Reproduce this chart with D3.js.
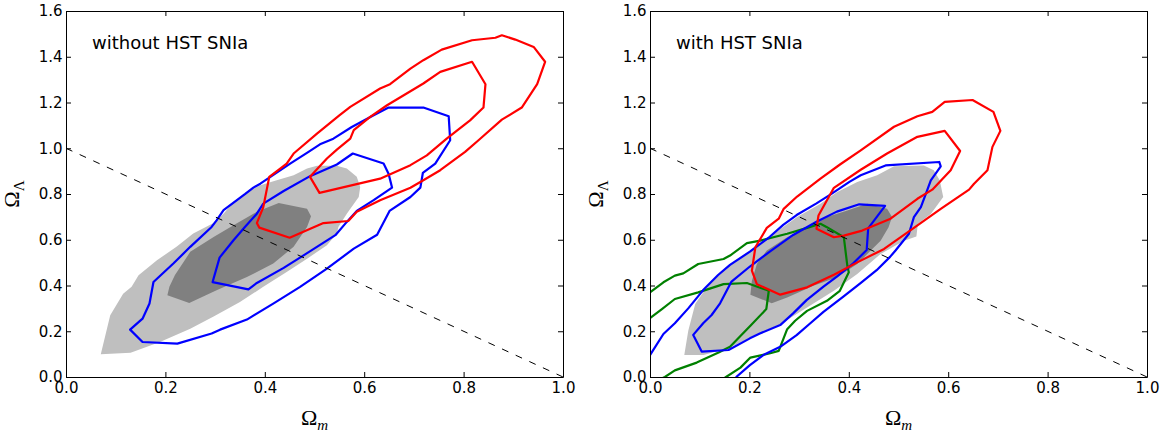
<!DOCTYPE html>
<html><head><meta charset="utf-8">
<script src="https://cdn.jsdelivr.net/npm/d3@7"></script>
<style>body{margin:0;background:#fff}svg{display:block}</style>
</head><body>
<svg id="chart" width="1167" height="437"></svg>
<script>
// ---------- data ----------
const xTicks = [0, 0.2, 0.4, 0.6, 0.8, 1.0];
const yTicks = [0, 0.2, 0.4, 0.6, 0.8, 1.0, 1.2, 1.4, 1.6];
const panelTitles = ["without HST SNIa", "with HST SNIa"];
const flatLine = [[0, 1], [1, 0]];

// Left panel (without HST SNIa)
const leftGrayOuter = [[0.070,0.099],[0.130,0.106],[0.189,0.153],[0.250,0.211],[0.297,0.265],[0.350,0.328],[0.397,0.394],[0.444,0.459],[0.485,0.517],[0.525,0.576],[0.545,0.627],[0.548,0.656],[0.565,0.714],[0.589,0.787],[0.592,0.831],[0.585,0.875],[0.565,0.911],[0.545,0.923],[0.505,0.923],[0.485,0.911],[0.458,0.882],[0.424,0.860],[0.391,0.838],[0.364,0.809],[0.337,0.765],[0.317,0.714],[0.297,0.673],[0.256,0.627],[0.223,0.571],[0.183,0.510],[0.146,0.445],[0.132,0.394],[0.115,0.364],[0.089,0.270]];
const leftGrayInner = [[0.204,0.357],[0.248,0.324],[0.303,0.379],[0.364,0.437],[0.417,0.496],[0.458,0.569],[0.485,0.656],[0.493,0.703],[0.485,0.736],[0.428,0.761],[0.384,0.722],[0.337,0.663],[0.297,0.612],[0.250,0.547],[0.219,0.445],[0.208,0.394]];
const leftBlueOuter = [[0.129,0.207],[0.154,0.153],[0.224,0.146],[0.293,0.190],[0.310,0.207],[0.364,0.251],[0.417,0.321],[0.471,0.394],[0.525,0.474],[0.579,0.561],[0.626,0.622],[0.651,0.726],[0.693,0.787],[0.713,0.828],[0.718,0.892],[0.743,0.933],[0.773,1.035],[0.770,1.140],[0.719,1.178],[0.649,1.178],[0.619,1.144],[0.575,1.093],[0.538,1.042],[0.511,1.017],[0.488,0.984],[0.451,0.933],[0.391,0.845],[0.377,0.828],[0.360,0.799],[0.317,0.729],[0.303,0.685],[0.293,0.656],[0.250,0.569],[0.216,0.496],[0.176,0.415],[0.168,0.321],[0.154,0.255]];
const leftBlueInner = [[0.295,0.415],[0.367,0.383],[0.384,0.411],[0.438,0.477],[0.478,0.532],[0.542,0.620],[0.565,0.678],[0.585,0.726],[0.619,0.773],[0.656,0.828],[0.649,0.889],[0.639,0.933],[0.577,0.977],[0.545,0.929],[0.491,0.878],[0.438,0.813],[0.397,0.758],[0.384,0.714],[0.360,0.656],[0.337,0.598],[0.309,0.522]];
const leftRedOuter = [[0.409,0.875],[0.397,0.743],[0.384,0.673],[0.389,0.653],[0.450,0.609],[0.518,0.673],[0.568,0.682],[0.585,0.722],[0.632,0.773],[0.693,0.827],[0.719,0.860],[0.753,0.904],[0.803,0.984],[0.830,1.035],[0.877,1.125],[0.917,1.178],[0.948,1.280],[0.964,1.378],[0.941,1.443],[0.904,1.475],[0.877,1.494],[0.864,1.483],[0.817,1.472],[0.756,1.431],[0.719,1.385],[0.693,1.348],[0.652,1.280],[0.632,1.261],[0.572,1.181],[0.550,1.144],[0.505,1.064],[0.458,0.977],[0.444,0.933],[0.431,0.911]];
const leftRedInner = [[0.510,0.805],[0.491,0.875],[0.525,0.955],[0.545,0.994],[0.572,1.042],[0.579,1.079],[0.612,1.137],[0.646,1.188],[0.719,1.283],[0.753,1.334],[0.817,1.378],[0.844,1.280],[0.840,1.178],[0.813,1.122],[0.766,1.042],[0.726,0.969],[0.693,0.926],[0.632,0.867]];

// Right panel (with HST SNIa)
const rightGrayOuter = [[0.069,0.096],[0.108,0.096],[0.161,0.129],[0.215,0.187],[0.262,0.231],[0.316,0.304],[0.370,0.377],[0.417,0.450],[0.464,0.538],[0.511,0.596],[0.536,0.614],[0.539,0.670],[0.565,0.713],[0.590,0.787],[0.583,0.860],[0.571,0.904],[0.551,0.925],[0.491,0.921],[0.457,0.882],[0.417,0.852],[0.376,0.808],[0.343,0.757],[0.296,0.699],[0.249,0.626],[0.202,0.553],[0.161,0.494],[0.121,0.414],[0.091,0.319],[0.077,0.202]];
const rightGrayInner = [[0.202,0.360],[0.245,0.322],[0.276,0.348],[0.329,0.399],[0.376,0.436],[0.417,0.494],[0.464,0.596],[0.480,0.655],[0.487,0.699],[0.477,0.735],[0.437,0.757],[0.397,0.728],[0.356,0.699],[0.316,0.655],[0.276,0.611],[0.235,0.553],[0.215,0.494],[0.205,0.421]];
const rightBlueOuter = [[0.000,0.096],[0.027,0.188],[0.050,0.235],[0.077,0.300],[0.107,0.380],[0.137,0.446],[0.161,0.490],[0.201,0.548],[0.241,0.613],[0.268,0.665],[0.295,0.708],[0.335,0.759],[0.362,0.796],[0.402,0.854],[0.424,0.882],[0.474,0.925],[0.582,0.940],[0.585,0.921],[0.565,0.860],[0.555,0.801],[0.545,0.743],[0.531,0.699],[0.521,0.626],[0.494,0.553],[0.483,0.525],[0.456,0.467],[0.423,0.409],[0.389,0.351],[0.349,0.285],[0.322,0.234],[0.295,0.183],[0.262,0.132],[0.228,0.096],[0.201,0.052],[0.174,0.001],[0.172,-0.01]];
const rightBlueInner = [[0.087,0.184],[0.104,0.111],[0.158,0.118],[0.201,0.169],[0.221,0.190],[0.262,0.227],[0.288,0.278],[0.315,0.336],[0.349,0.395],[0.376,0.439],[0.409,0.497],[0.436,0.555],[0.439,0.650],[0.473,0.748],[0.421,0.755],[0.376,0.723],[0.335,0.679],[0.288,0.621],[0.241,0.548],[0.201,0.483],[0.164,0.417],[0.141,0.322],[0.124,0.271],[0.107,0.235]];
const rightRedOuter = [[0.269,0.735],[0.259,0.692],[0.235,0.652],[0.212,0.567],[0.205,0.465],[0.215,0.406],[0.262,0.360],[0.316,0.392],[0.370,0.447],[0.417,0.501],[0.471,0.560],[0.531,0.652],[0.585,0.735],[0.642,0.819],[0.652,0.845],[0.679,0.904],[0.689,1.006],[0.705,1.076],[0.691,1.159],[0.649,1.211],[0.593,1.203],[0.568,1.159],[0.538,1.140],[0.491,1.094],[0.424,0.991],[0.383,0.930],[0.343,0.867],[0.296,0.789]];
const rightRedInner = [[0.390,0.618],[0.370,0.611],[0.335,0.648],[0.339,0.706],[0.370,0.827],[0.424,0.906],[0.477,0.977],[0.538,1.050],[0.593,1.076],[0.624,0.988],[0.605,0.904],[0.568,0.819],[0.538,0.779],[0.484,0.692],[0.427,0.640]];
const rightGreenOuter = [[-0.01,0.362],[0.000,0.370],[0.027,0.414],[0.050,0.443],[0.067,0.453],[0.097,0.494],[0.148,0.516],[0.161,0.531],[0.195,0.585],[0.222,0.596],[0.276,0.626],[0.316,0.652],[0.343,0.670],[0.356,0.655],[0.390,0.611],[0.397,0.487],[0.400,0.458],[0.382,0.377],[0.356,0.333],[0.316,0.289],[0.292,0.246],[0.276,0.209],[0.259,0.114],[0.242,0.104],[0.202,0.085],[0.182,0.041],[0.153,0.000],[0.146,-0.01]];
const rightGreenInner = [[-0.01,0.25],[0.000,0.257],[0.024,0.297],[0.050,0.341],[0.097,0.370],[0.148,0.406],[0.195,0.411],[0.239,0.377],[0.234,0.297],[0.202,0.224],[0.161,0.132],[0.138,0.107],[0.094,0.063],[0.050,0.029],[0.030,0.000],[0.020,-0.01]];

// ---------- drawing ----------
const svg = d3.select("#chart");
const plotTop = 11, plotBottom = 377;
const panels = [
  {left: 66, right: 563, title: panelTitles[0],
   fills: [[leftGrayOuter, "#bfbfbf"], [leftGrayInner, "#808080"]],
   closed: [[leftBlueOuter, "#0000ff"], [leftBlueInner, "#0000ff"], [leftRedOuter, "#ff0000"], [leftRedInner, "#ff0000"]],
   open: []},
  {left: 650, right: 1147, title: panelTitles[1],
   fills: [[rightGrayOuter, "#bfbfbf"], [rightGrayInner, "#808080"]],
   closed: [[rightBlueInner, "#0000ff"], [rightRedOuter, "#ff0000"], [rightRedInner, "#ff0000"]],
   open: [[rightGreenOuter, "#008000"], [rightGreenInner, "#008000"], [rightBlueOuter, "#0000ff"]]}
];

const fmt = d3.format(".1f");

panels.forEach((p, i) => {
  const x = d3.scaleLinear().domain([0, 1]).range([p.left, p.right]);
  const y = d3.scaleLinear().domain([0, 1.6]).range([plotBottom, plotTop]);
  const clipId = "clip" + i;
  svg.append("clipPath").attr("id", clipId).append("rect")
    .attr("x", p.left).attr("y", plotTop).attr("width", p.right - p.left).attr("height", plotBottom - plotTop);
  const g = svg.append("g").attr("clip-path", `url(#${clipId})`);
  const closedLine = d3.line().x(d => x(d[0])).y(d => y(d[1])).curve(d3.curveLinearClosed);
  const openLine = d3.line().x(d => x(d[0])).y(d => y(d[1]));

  p.fills.forEach(([pts, col]) => g.append("path").attr("d", closedLine(pts)).attr("fill", col).attr("stroke", "none"));
  p.open.forEach(([pts, col]) => g.append("path").attr("d", openLine(pts)).attr("fill", "none").attr("stroke", col).attr("stroke-width", 2.2).attr("stroke-linejoin", "round"));
  p.closed.forEach(([pts, col]) => g.append("path").attr("d", closedLine(pts)).attr("fill", "none").attr("stroke", col).attr("stroke-width", 2.2).attr("stroke-linejoin", "round"));
  g.append("path").attr("d", openLine(flatLine)).attr("fill", "none").attr("stroke", "#000")
    .attr("stroke-width", 1).attr("stroke-dasharray", "7,8");

  const font = "DejaVu Sans, sans-serif";
  const ax = (gen, tx, ty, labels) => {
    const a = svg.append("g").attr("transform", `translate(${tx},${ty})`)
      .call(gen.tickSizeInner(-5).tickSizeOuter(0).tickPadding(labels ? 5 : 0).tickFormat(labels ? fmt : ""));
    a.select(".domain").attr("stroke", "#000").attr("stroke-width", 1);
    a.selectAll(".tick line").attr("stroke", "#000").attr("stroke-width", 1);
    a.selectAll(".tick text").attr("fill", "#000").style("font-family", font).style("font-size", "15px");
    return a;
  };
  ax(d3.axisBottom(x).tickValues(xTicks), 0, plotBottom, true);
  ax(d3.axisTop(x).tickValues(xTicks), 0, plotTop, false);
  ax(d3.axisLeft(y).tickValues(yTicks), p.left, 0, true).selectAll(".tick text").attr("x", -3.5);
  ax(d3.axisRight(y).tickValues(yTicks), p.right, 0, false);

  // title
  svg.append("text").attr("x", p.left + 26).attr("y", 49).text(p.title)
    .style("font-family", font).style("font-size", "18px").attr("fill", "#000");

  // axis labels
  const serif = "Liberation Serif, DejaVu Serif, serif";
  const xl = svg.append("text").attr("x", (p.left + p.right) / 2).attr("y", 425)
    .attr("text-anchor", "middle").style("font-family", serif).attr("fill", "#000");
  xl.append("tspan").text("Ω").style("font-size", "22px");
  xl.append("tspan").text("m").attr("dy", 5).style("font-size", "15px").style("font-style", "italic");

  const yl = svg.append("text").attr("transform", `translate(${p.left - 47},${(plotTop + plotBottom) / 2}) rotate(-90)`)
    .attr("text-anchor", "middle").style("font-family", serif).attr("fill", "#000");
  yl.append("tspan").text("Ω").style("font-size", "22px");
  yl.append("tspan").text("Λ").attr("dy", 5).style("font-size", "15px");
});
</script>
</body></html>
